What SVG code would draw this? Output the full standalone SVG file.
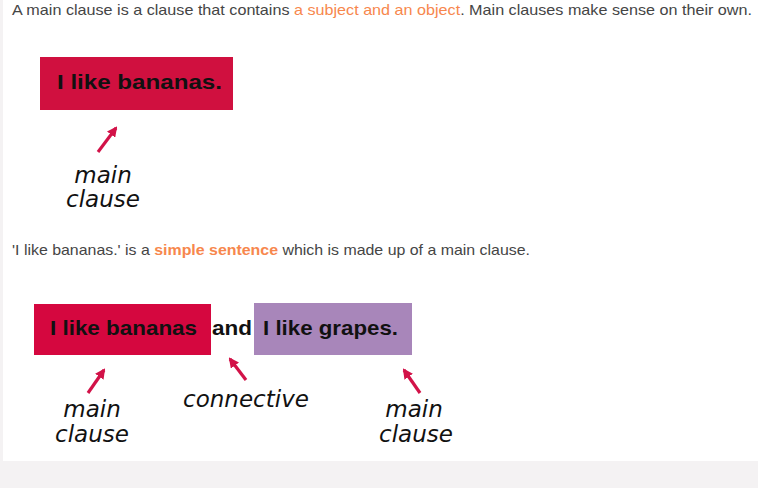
<svg xmlns="http://www.w3.org/2000/svg" width="758" height="488" viewBox="0 0 758 488">
<defs>
<marker id="ah" viewBox="0 0 10 10" refX="8" refY="5" markerWidth="3.2" markerHeight="3.2" orient="auto" markerUnits="strokeWidth">
<path d="M0,0 L10,5 L0,10 Z" fill="#d21248"/>
</marker>
<style>
.body{font-family:"Liberation Sans",Arial,sans-serif;font-size:15px;fill:#454545}
.hl{fill:#f7874d}
.box{font-family:"Liberation Sans",Arial,sans-serif;font-weight:bold;font-size:21px;fill:#111}
.hand{font-family:"DejaVu Sans","Noto Sans",sans-serif;font-style:italic;font-size:23px;fill:#111}
.arrow{stroke:#d21248;stroke-width:3.2;fill:none;marker-end:url(#ah)}
</style>
</defs>
<rect x="0" y="0" width="758" height="488" fill="#f4f2f3"/>
<rect x="3" y="0" width="755" height="461" fill="#ffffff"/>
<text class="body" x="12" y="15" textLength="740" lengthAdjust="spacingAndGlyphs">A main clause is a clause that contains <tspan class="hl">a subject and an object</tspan>. Main clauses make sense on their own.</text>
<g id="box1">
<rect x="40" y="57" width="193" height="53" fill="#d0103f"/>
<text class="box" x="57" y="89" textLength="165" lengthAdjust="spacingAndGlyphs">I like bananas.</text>
</g>
<g id="label1" class="hand">
<text x="103" y="183" text-anchor="middle">main</text>
<text x="103" y="207" text-anchor="middle">clause</text>
</g>
<text class="body" x="12" y="255" textLength="518" lengthAdjust="spacingAndGlyphs">'I like bananas.' is a <tspan class="hl" font-weight="bold">simple sentence</tspan> which is made up of a main clause.</text>
<g id="box2">
<rect x="34" y="304" width="177" height="51" fill="#d5073f"/>
<text class="box" x="50" y="335" textLength="147" lengthAdjust="spacingAndGlyphs">I like bananas</text>
</g>
<g id="and">
<text class="box" x="212" y="335" textLength="40" lengthAdjust="spacingAndGlyphs">and</text>
</g>
<g id="box3">
<rect x="254" y="303" width="158" height="52" fill="#a886ba"/>
<text class="box" x="263" y="335" textLength="135" lengthAdjust="spacingAndGlyphs">I like grapes.</text>
</g>
<g id="label2" class="hand">
<text x="92" y="417" text-anchor="middle">main</text>
<text x="92" y="442" text-anchor="middle">clause</text>
</g>
<g id="label3" class="hand">
<text x="246" y="407" text-anchor="middle">connective</text>
</g>
<g id="label4" class="hand">
<text x="414" y="417" text-anchor="middle">main</text>
<text x="416" y="442" text-anchor="middle">clause</text>
</g>
<g id="connectors">
<line class="arrow" x1="98" y1="152" x2="116" y2="128"/>
<line class="arrow" x1="88" y1="393" x2="104" y2="370"/>
<line class="arrow" x1="246" y1="380" x2="230" y2="359"/>
<line class="arrow" x1="420" y1="393" x2="404" y2="370"/>
</g>
</svg>
